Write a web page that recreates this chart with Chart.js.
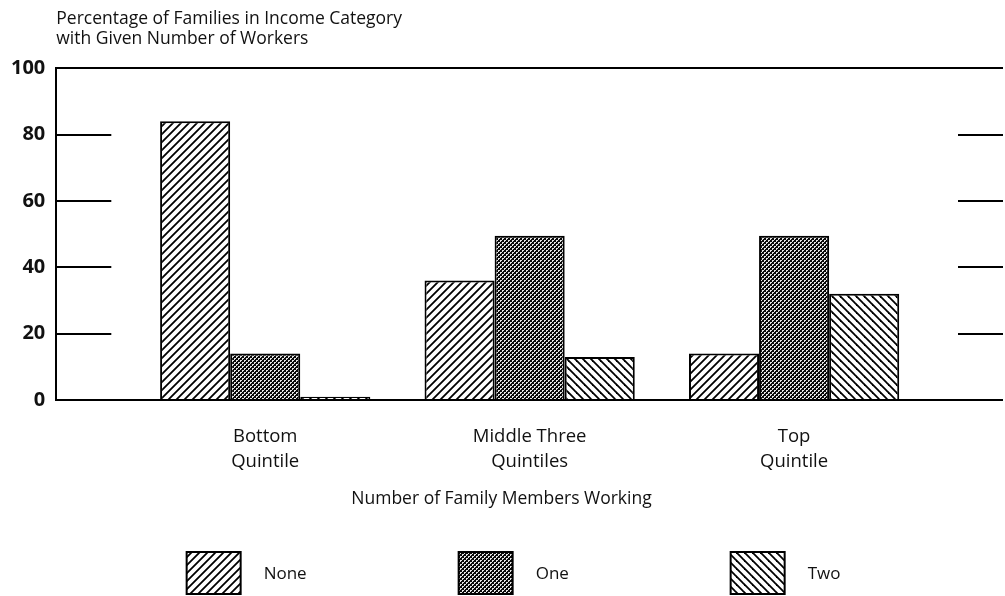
<!DOCTYPE html>
<html>
<head>
<meta charset="utf-8">
<script src="https://cdn.jsdelivr.net/npm/chart.js@4/dist/chart.umd.min.js"></script>
<style>
html,body{margin:0;padding:0;background:#fff}
#wrap{width:1005px;height:596px;position:relative}
</style>
</head>
<body>
<div id="wrap"><canvas id="c"></canvas></div>
<script>
'use strict';
const CATS=[['Bottom','Quintile'],['Middle Three','Quintiles'],['Top','Quintile']];
const NONE=[84,36,14];
const ONE=[14,49.5,49.5];
const TWO=[1,13,32];
const YTICKS=[0,20,40,60,80,100];
const FONT='"Open Sans", "Noto Sans", sans-serif';
const INK='#111';

function tile(n,draw){const cv=document.createElement('canvas');cv.width=cv.height=n;const g=cv.getContext('2d');draw(g,n);return g.createPattern(cv,'repeat');}
function hatch(dir){
  return tile(8,(g,n)=>{
    g.fillStyle='#fff';g.fillRect(0,0,n,n);
    g.strokeStyle='#000';g.lineWidth=1.8;g.lineCap='square';
    const seg=(x0,y0,x1,y1)=>{g.beginPath();g.moveTo(x0,y0);g.lineTo(x1,y1);g.stroke();};
    if(dir>0){seg(0,n,n,0);seg(-n/2,n/2,n/2,-n/2);seg(n/2,n*1.5,n*1.5,n/2);}
    else{seg(0,0,n,n);seg(-n/2,n/2,n/2,n*1.5);seg(n/2,-n/2,n*1.5,n/2);}
  });
}
const PAT_NONE=hatch(1),PAT_TWO=hatch(-1);
// fine dark checker with small white dots
const PAT_ONE=tile(4,(g)=>{
  g.fillStyle='#0a0a0a';g.fillRect(0,0,4,4);
  g.fillStyle='#e6e6e6';
  [[0,0],[1,0],[0,1],[2,2],[3,2],[2,3]].forEach(([x,y])=>g.fillRect(x,y,1,1));
});

const pts=arr=>arr.map((v,i)=>({x:i,y:v}));

// short tick marks on both sides, like the printed figure
const sideTicks={id:'sideTicks',beforeDatasetsDraw(c){
  const g=c.ctx,a=c.chartArea,y=c.scales.y;
  g.save();g.strokeStyle='#000';g.lineWidth=2;
  YTICKS.filter(v=>v>0&&v<100).forEach(v=>{
    const py=Math.round(y.getPixelForValue(v));
    g.beginPath();g.moveTo(a.left,py);g.lineTo(a.left+55,py);g.moveTo(a.right-45,py);g.lineTo(a.right,py);g.stroke();
  });
  g.restore();
}};
// legend swatches under the subtitle
const swatches={id:'swatches',afterDraw(c){
  const g=c.ctx,a=c.chartArea,mid=(a.left+a.right)/2,top=c.height-44;
  c.data.datasets.forEach((d,i)=>{
    const bx=mid-343+i*272;
    g.save();
    g.fillStyle=d.backgroundColor;g.fillRect(bx,top,54,42);
    g.lineWidth=2;g.strokeStyle='#000';g.strokeRect(bx,top,54,42);
    g.fillStyle=INK;g.font='17px '+FONT;g.textBaseline='middle';g.textAlign='left';
    g.fillText(d.label,bx+77,top+22);
    g.restore();
  });
}};

new Chart(document.getElementById('c'),{
  type:'bar',
  data:{datasets:[
    {label:'None',data:pts(NONE),backgroundColor:PAT_NONE,borderColor:'#000',borderWidth:2},
    {label:'One',data:pts(ONE),backgroundColor:PAT_ONE,borderColor:'#000',borderWidth:2},
    {label:'Two',data:pts(TWO),backgroundColor:PAT_TWO,borderColor:'#000',borderWidth:2}
  ]},
  options:{
    responsive:true,maintainAspectRatio:false,animation:false,
    categoryPercentage:0.795,barPercentage:1,
    layout:{padding:{left:0,right:2,top:0,bottom:0}},
    plugins:{
      legend:{display:false},tooltip:{enabled:false},
      title:{display:true,fullSize:false,align:'start',position:'top',color:INK,
        text:['Percentage of Families in Income Category','with Given Number of Workers'],
        font:{family:FONT,size:17.5,weight:'normal',lineHeight:1.15},padding:{top:9,bottom:19}},
      subtitle:{display:true,position:'bottom',align:'center',color:INK,
        text:'Number of Family Members Working',
        font:{family:FONT,size:17.5,weight:'normal',lineHeight:1.2},padding:{top:-9,bottom:86}}
    },
    scales:{
      x:{type:'linear',min:-0.79,max:2.79,offset:false,
        afterBuildTicks:s=>{s.ticks=CATS.map((_,i)=>({value:i}));},
        grid:{display:false,offset:false,drawTicks:false},border:{display:false},
        ticks:{autoSkip:false,maxRotation:0,padding:24,color:INK,font:{family:FONT,size:18.5,lineHeight:1.35},callback:v=>CATS[v]}},
      y:{min:0,max:100,
        afterBuildTicks:s=>{s.ticks=YTICKS.map(v=>({value:v}));},
        grid:{drawTicks:false,lineWidth:2,color:ctx=>(ctx.tick&&(ctx.tick.value===0||ctx.tick.value===100))?'#000':'rgba(0,0,0,0)'},
        border:{display:true,color:'#000',width:2},
        ticks:{padding:11,color:INK,font:{family:FONT,size:20,weight:'bold'}}}
    }
  },
  plugins:[sideTicks,swatches]
});
</script>
</body>
</html>
